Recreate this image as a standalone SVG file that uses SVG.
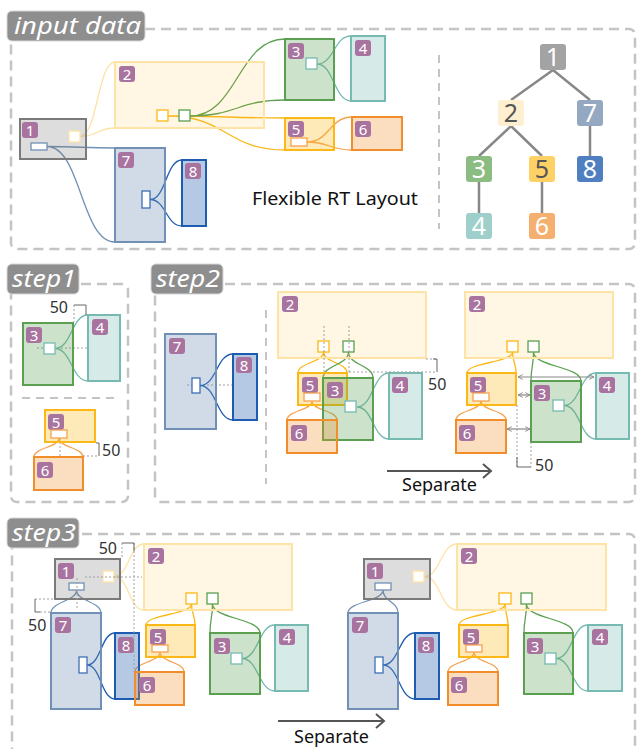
<svg xmlns="http://www.w3.org/2000/svg" width="637" height="749" viewBox="0 0 637 749">
<defs>
<style>
.frame{fill:none;stroke:#c4c4c4;stroke-width:2.5;stroke-dasharray:10 6}
.vdash{fill:none;stroke:#c4c4c4;stroke-width:2;stroke-dasharray:8 6}
.lbox{fill:#8e8e8e;stroke:#d6d6d6;stroke-width:1}
.ltxt{font-family:"Noto Sans","Liberation Sans",sans-serif;font-style:italic;fill:#fff;font-size:24px}
.n1{fill:#7a7a7a;fill-opacity:.26;stroke:#7a7a7a;stroke-width:2}
.n2{fill:#fbb817;fill-opacity:.12;stroke:#fde3a6;stroke-width:2}
.n3{fill:#5aa050;fill-opacity:.3;stroke:#5aa050;stroke-width:2}
.n4{fill:#76bab2;fill-opacity:.3;stroke:#76bab2;stroke-width:2}
.n5{fill:#fbb817;fill-opacity:.3;stroke:#fbb817;stroke-width:2}
.n6{fill:#f28d2c;fill-opacity:.3;stroke:#f28d2c;stroke-width:2}
.n7{fill:#7190b5;fill-opacity:.32;stroke:#7190b5;stroke-width:2}
.n8{fill:#1d5cb1;fill-opacity:.33;stroke:#1d5cb1;stroke-width:2}
.badge{fill:#a8739f}
.bt{font-family:"Noto Sans","Liberation Sans",sans-serif;font-size:15px;fill:#fff;text-anchor:middle}
.p{fill:#fff;stroke-width:1.3}
.pl{stroke:#fde3a6}.py{stroke:#fbb817}.pg{stroke:#5aa050}.pt{stroke:#76bab2}.po{stroke:#f6a14f}.pb{stroke:#7190b5}.pd{stroke:#3d6fb5}
.c{fill:none;stroke-width:1.3}
.c12{stroke:#fde3a6}.c25{stroke:#fbb817}.c23{stroke:#5aa050}.c34{stroke:#76bab2}.c56{stroke:#f6a14f}.c17{stroke:#7190b5}.c78{stroke:#1d5cb1}
.dot{fill:none;stroke:#a0a0a0;stroke-width:1;stroke-dasharray:2 2}
.br{fill:none;stroke:#666;stroke-width:1}
.dim{font-family:"Noto Sans","Liberation Sans",sans-serif;font-size:16px;fill:#333}
.cap{font-family:"Noto Sans","Liberation Sans",sans-serif;font-size:18px;fill:#111}
.te{stroke:#888;stroke-width:2.5;fill:none}
.tn{font-family:"Noto Sans","Liberation Sans",sans-serif;font-size:25px;text-anchor:middle}
.dh{fill:none;stroke:#888;stroke-width:1.2}
.sep{fill:none;stroke:#555;stroke-width:2}
</style>
<marker id="ah" viewBox="0 0 10 10" refX="9" refY="5" markerWidth="6" markerHeight="6" markerUnits="userSpaceOnUse" orient="auto-start-reverse">
<path d="M1,1 L9,5 L1,9" fill="none" stroke="#888" stroke-width="1.5"/>
</marker>
</defs>

<g id="frames">
<rect class="frame" x="11" y="29" width="624" height="220" rx="6"/>
<path class="vdash" d="M439,55 V229"/>
<rect class="frame" x="11" y="284" width="117" height="218" rx="6"/>
<path class="vdash" d="M22,398 H118"/>
<rect class="frame" x="155" y="284" width="480" height="218" rx="6"/>
<path class="vdash" d="M266,310 V484"/>
<rect class="frame" x="12" y="534" width="623" height="240" rx="6"/>
</g>
<g id="labels">
<rect class="lbox" x="7" y="11" width="138" height="30" rx="5"/>
<text class="ltxt" x="14" y="34" textLength="127" lengthAdjust="spacingAndGlyphs">input data</text>
<rect class="lbox" x="7" y="264" width="72" height="30" rx="5"/>
<text class="ltxt" x="12" y="287" textLength="64" lengthAdjust="spacingAndGlyphs">step1</text>
<rect class="lbox" x="151" y="264" width="72" height="30" rx="5"/>
<text class="ltxt" x="156" y="287" textLength="64" lengthAdjust="spacingAndGlyphs">step2</text>
<rect class="lbox" x="7" y="518" width="72" height="30" rx="5"/>
<text class="ltxt" x="12" y="541" textLength="64" lengthAdjust="spacingAndGlyphs">step3</text>
</g>

<g id="connectors-input">
<path class="c c12" d="M80,136.5 C97.5,136.5 97.5,62 115,62 M80,136.5 C97.5,136.5 97.5,128 115,128"/>
<path class="c c17" d="M47,146.5 C81,146.5 81,148 115,148 M47,146.5 C81,146.5 81,242 115,242"/>
<path class="c c25" d="M168,116 C226.5,116 226.5,118 285,118 M168,116 C226.5,116 226.5,150 285,150"/>
<path class="c c23" d="M190,116 C237.5,116 237.5,39 285,39 M190,116 C237.5,116 237.5,100 285,100"/>
<path class="c c34" d="M317,64 C334,64 334,36 351,36 M317,64 C334,64 334,101 351,101"/>
<path class="c c56" d="M307,142 C329.5,142 329.5,117 352,117 M307,142 C329.5,142 329.5,150 352,150"/>
<path class="c c78" d="M150,199.5 C166,199.5 166,160 182,160 M150,199.5 C166,199.5 166,226 182,226"/>
</g>
<g id="in-n1"><rect class="n1" x="20" y="119" width="66" height="40"/><rect class="badge" x="22" y="122" width="16" height="16" rx="3"/><text class="bt" x="30" y="135.5">1</text><rect class="p pl" x="69" y="131" width="11" height="11"/><rect class="p pb" x="31" y="143" width="16" height="7"/></g>
<g id="in-n2"><rect class="n2" x="115" y="62" width="149" height="66"/><rect class="badge" x="119" y="66" width="16" height="16" rx="3"/><text class="bt" x="127" y="79.5">2</text><rect class="p py" x="157" y="110" width="11" height="11"/><rect class="p pg" x="179" y="110" width="11" height="11"/></g>
<g id="in-n3"><rect class="n3" x="285" y="39" width="49" height="61"/><rect class="badge" x="288" y="43" width="16" height="16" rx="3"/><text class="bt" x="296" y="56.5">3</text><rect class="p pt" x="306" y="58" width="11" height="11"/></g>
<g id="in-n4"><rect class="n4" x="351" y="36" width="34" height="65"/><rect class="badge" x="355" y="40" width="16" height="16" rx="3"/><text class="bt" x="363" y="53.5">4</text></g>
<g id="in-n5"><rect class="n5" x="285" y="118" width="49" height="32"/><rect class="badge" x="288" y="121" width="16" height="16" rx="3"/><text class="bt" x="296" y="134.5">5</text><rect class="p po" x="291" y="138" width="16" height="8"/></g>
<g id="in-n6"><rect class="n6" x="352" y="117" width="50" height="33"/><rect class="badge" x="355" y="121" width="16" height="16" rx="3"/><text class="bt" x="363" y="134.5">6</text></g>
<g id="in-n7"><rect class="n7" x="115" y="148" width="50" height="94"/><rect class="badge" x="118" y="152" width="16" height="16" rx="3"/><text class="bt" x="126" y="165.5">7</text><rect class="p pd" x="142" y="191" width="8" height="17"/></g>
<g id="in-n8"><rect class="n8" x="182" y="160" width="24" height="66"/><rect class="badge" x="185" y="163" width="16" height="16" rx="3"/><text class="bt" x="193" y="176.5">8</text></g>
<text class="cap" x="252" y="205" textLength="166" lengthAdjust="spacingAndGlyphs">Flexible RT Layout</text>

<g id="tree-edges">
<path class="te" d="M553,70 L511,100 M553,70 L590,100 M511,126 L479,156 M511,126 L542,156 M590,126 V156 M479,182 V213 M542,182 V213"/>
</g>
<g id="t1"><rect x="540" y="44" width="26" height="26" rx="3" fill="#a3a3a3"/><text class="tn" x="553" y="66" fill="#fff">1</text></g>
<g id="t2"><rect x="498" y="100" width="26" height="26" rx="3" fill="#fdefcf"/><text class="tn" x="511" y="122" fill="#555">2</text></g>
<g id="t7"><rect x="577" y="100" width="26" height="26" rx="3" fill="#95a8c2"/><text class="tn" x="590" y="122" fill="#fff">7</text></g>
<g id="t3"><rect x="466" y="156" width="26" height="26" rx="3" fill="#8bbd82"/><text class="tn" x="479" y="178" fill="#fff">3</text></g>
<g id="t5"><rect x="529" y="156" width="26" height="26" rx="3" fill="#fdd166"/><text class="tn" x="542" y="178" fill="#555">5</text></g>
<g id="t8"><rect x="577" y="156" width="26" height="26" rx="3" fill="#4f7fc0"/><text class="tn" x="590" y="178" fill="#fff">8</text></g>
<g id="t4"><rect x="466" y="213" width="26" height="26" rx="3" fill="#9ecfcb"/><text class="tn" x="479" y="235" fill="#fff">4</text></g>
<g id="t6"><rect x="529" y="213" width="26" height="26" rx="3" fill="#f5b070"/><text class="tn" x="542" y="235" fill="#fff">6</text></g>

<g id="connectors-step1">
<path class="dot" d="M37,348 H88"/>
<path class="c c34" d="M55,348.5 C71.5,348.5 71.5,315 88,315 M55,348.5 C71.5,348.5 71.5,381 88,381"/>
<path class="c c56" d="M59,438 C59,447.5 34,447.5 34,457 M59,438 C59,447.5 83,447.5 83,457"/>
<path class="dot" d="M74,305 V322 M60,430 V456 M83,456 H99"/>
<path class="br" d="M74,305 H86 V315 M96,443 H99 V456"/>
</g>
<g id="s1-n3"><rect class="n3" x="23" y="323" width="50" height="62"/><rect class="badge" x="26" y="327" width="16" height="16" rx="3"/><text class="bt" x="34" y="340.5">3</text><rect class="p pt" x="44" y="343" width="11" height="11"/></g>
<g id="s1-n4"><rect class="n4" x="88" y="315" width="32" height="66"/><rect class="badge" x="92" y="319" width="16" height="16" rx="3"/><text class="bt" x="100" y="332.5">4</text></g>
<g id="s1-n5"><rect class="n5" x="45" y="410" width="50" height="32"/><rect class="badge" x="48" y="414" width="16" height="16" rx="3"/><text class="bt" x="56" y="427.5">5</text><rect class="p po" x="51" y="430" width="16" height="8"/></g>
<g id="s1-n6"><rect class="n6" x="34" y="457" width="49" height="33"/><rect class="badge" x="37" y="462" width="16" height="16" rx="3"/><text class="bt" x="45" y="475.5">6</text></g>
<text class="dim" x="68" y="313" text-anchor="end">50</text>
<text class="dim" x="102" y="456">50</text>

<g id="connectors-step2">
<path class="dot" d="M187,385 H233"/>
<path class="c c78" d="M200,385.5 C216.5,385.5 216.5,354 233,354 M200,385.5 C216.5,385.5 216.5,420 233,420"/>
<path class="c c25" d="M323.5,352 C323.5,362.5 298,362.5 298,373 M323.5,352 C323.5,362.5 347,362.5 347,373"/>
<path class="c c23" d="M348.5,352 C348.5,365 323,365 323,378 M348.5,352 C348.5,365 373,365 373,378"/>
<path class="c c56" d="M312,401 C312,410.5 287,410.5 287,420 M312,401 C312,410.5 337,410.5 337,420"/>
<path class="c c34" d="M357,407 C373,407 373,373 389,373 M357,407 C373,407 373,439 389,439"/>
<path class="c c25" d="M512.5,352 C512.5,362.5 467,362.5 467,373 M512.5,352 C512.5,362.5 516,362.5 516,373"/>
<path class="c c23" d="M533.5,352 C533.5,366.5 531,366.5 531,381 M533.5,352 C533.5,366.5 581,366.5 581,381"/>
<path class="c c56" d="M481,401 C481,410.5 456,410.5 456,420 M481,401 C481,410.5 506,410.5 506,420"/>
<path class="c c34" d="M564,405.5 C580,405.5 580,373 596,373 M564,405.5 C580,405.5 580,439 596,439"/>
</g>
<g id="s2-n7"><rect class="n7" x="165" y="334" width="51" height="95"/><rect class="badge" x="169" y="338" width="16" height="16" rx="3"/><text class="bt" x="177" y="351.5">7</text><rect class="p pd" x="192" y="378" width="8" height="15"/></g>
<g id="s2-n8"><rect class="n8" x="233" y="354" width="24" height="66"/><rect class="badge" x="236" y="357" width="16" height="16" rx="3"/><text class="bt" x="244" y="370.5">8</text></g>

<g id="s2a-n2"><rect class="n2" x="278" y="292" width="148" height="66"/><rect class="badge" x="282" y="296" width="16" height="16" rx="3"/><text class="bt" x="290" y="309.5">2</text><rect class="p py" x="318" y="341" width="11" height="11"/><rect class="p pg" x="343" y="341" width="11" height="11"/></g>
<g id="s2a-n5"><rect class="n5" x="298" y="373" width="49" height="32"/><rect class="badge" x="302" y="377" width="16" height="16" rx="3"/><text class="bt" x="310" y="390.5">5</text><rect class="p po" x="304" y="393" width="16" height="8"/></g>
<g id="s2a-n3"><rect class="n3" x="323" y="378" width="50" height="62"/><rect class="badge" x="327" y="382" width="16" height="16" rx="3"/><text class="bt" x="335" y="395.5">3</text><rect class="p pt" x="345" y="401" width="11" height="11"/></g>
<g id="s2a-n6"><rect class="n6" x="287" y="420" width="50" height="33"/><rect class="badge" x="291" y="425" width="16" height="16" rx="3"/><text class="bt" x="299" y="438.5">6</text></g>
<g id="s2a-n4"><rect class="n4" x="389" y="373" width="33" height="66"/><rect class="badge" x="392" y="377" width="16" height="16" rx="3"/><text class="bt" x="400" y="390.5">4</text></g>
<path class="dot" d="M324,326 V378 M349,326 V372 M349,372 H437 M426,359 H437"/>
<path class="br" d="M433,359 H437 V372"/>
<text class="dim" x="428" y="390">50</text>

<g id="s2b-n2"><rect class="n2" x="465" y="292" width="148" height="66"/><rect class="badge" x="469" y="296" width="16" height="16" rx="3"/><text class="bt" x="477" y="309.5">2</text><rect class="p py" x="507" y="341" width="11" height="11"/><rect class="p pg" x="528" y="341" width="11" height="11"/></g>
<g id="s2b-n5"><rect class="n5" x="467" y="373" width="49" height="32"/><rect class="badge" x="470" y="377" width="16" height="16" rx="3"/><text class="bt" x="478" y="390.5">5</text><rect class="p po" x="473" y="393" width="16" height="8"/></g>
<g id="s2b-n6"><rect class="n6" x="456" y="420" width="50" height="33"/><rect class="badge" x="459" y="425" width="16" height="16" rx="3"/><text class="bt" x="467" y="438.5">6</text></g>
<g id="s2b-n3"><rect class="n3" x="531" y="381" width="50" height="61"/><rect class="badge" x="534" y="385" width="16" height="16" rx="3"/><text class="bt" x="542" y="398.5">3</text><rect class="p pt" x="553" y="400" width="11" height="11"/></g>
<g id="s2b-n4"><rect class="n4" x="596" y="373" width="33" height="66"/><rect class="badge" x="599" y="377" width="16" height="16" rx="3"/><text class="bt" x="607" y="390.5">4</text></g>
<g id="s2b-arrows">
<path class="dh" d="M518,377 H594" marker-start="url(#ah)" marker-end="url(#ah)"/>
<path class="dh" d="M518,395 H530" marker-start="url(#ah)" marker-end="url(#ah)"/>
<path class="dh" d="M507,429 H530" marker-start="url(#ah)" marker-end="url(#ah)"/>
<path class="dot" d="M517,405 V467 M531,442 V467"/>
<path class="br" d="M517,457 V467 H531"/>
</g>
<text class="dim" x="535" y="471">50</text>
<g id="sep2"><path class="sep" d="M387,471 H491 M483,464 L491,471 L483,478"/></g>
<text class="cap" x="402" y="491" font-size="19">Separate</text>

<g id="connectors-step3">
<path class="c c12" d="M114,576.5 C129,576.5 129,544 144,544 M114,576.5 C129,576.5 129,610 144,610"/>
<path class="c c17" d="M76.5,590 C76.5,601.5 51,601.5 51,613 M76.5,590 C76.5,601.5 101,601.5 101,613"/>
<path class="c c25" d="M191.5,604 C191.5,614.5 146,614.5 146,625 M191.5,604 C191.5,614.5 195,614.5 195,625"/>
<path class="c c23" d="M212.5,604 C212.5,618.5 210,618.5 210,633 M212.5,604 C212.5,618.5 260,618.5 260,633"/>
<path class="c c78" d="M87,665 C101,665 101,633 115,633 M87,665 C101,665 101,699 115,699"/>
<path class="c c56" d="M160,652 C160,662 135,662 135,672 M160,652 C160,662 184,662 184,672"/>
<path class="c c34" d="M242,658.5 C258.5,658.5 258.5,625 275,625 M242,658.5 C258.5,658.5 258.5,691 275,691"/>
<path class="c c12" d="M424,576.5 C440.5,576.5 440.5,544 457,544 M424,576.5 C440.5,576.5 440.5,610 457,610"/>
<path class="c c17" d="M383,590 C383,601.5 348,601.5 348,613 M383,590 C383,601.5 398,601.5 398,613"/>
<path class="c c25" d="M505,604 C505,614.5 459,614.5 459,625 M505,604 C505,614.5 508,614.5 508,625"/>
<path class="c c23" d="M526.5,604 C526.5,618.5 524,618.5 524,633 M526.5,604 C526.5,618.5 573,618.5 573,633"/>
<path class="c c78" d="M383,665 C399,665 399,633 415,633 M383,665 C399,665 399,699 415,699"/>
<path class="c c56" d="M474,652 C474,662 448,662 448,672 M474,652 C474,662 498,662 498,672"/>
<path class="c c34" d="M556,658.5 C572,658.5 572,625 588,625 M556,658.5 C572,658.5 572,691 588,691"/>
</g>
<g id="s3a-n1"><rect class="n1" x="55" y="559" width="65" height="40"/><rect class="badge" x="58" y="563" width="16" height="16" rx="3"/><text class="bt" x="66" y="576.5">1</text><rect class="p pl" x="103" y="571" width="11" height="11"/><rect class="p pb" x="69" y="583" width="15" height="7"/></g>
<g id="s3a-n2"><rect class="n2" x="144" y="544" width="148" height="66"/><rect class="badge" x="148" y="548" width="16" height="16" rx="3"/><text class="bt" x="156" y="561.5">2</text><rect class="p py" x="186" y="593" width="11" height="11"/><rect class="p pg" x="207" y="593" width="11" height="11"/></g>
<g id="s3a-n7"><rect class="n7" x="51" y="613" width="50" height="96"/><rect class="badge" x="55" y="617" width="16" height="16" rx="3"/><text class="bt" x="63" y="630.5">7</text><rect class="p pd" x="79" y="657" width="8" height="16"/></g>
<g id="s3a-n8"><rect class="n8" x="115" y="633" width="24" height="66"/><rect class="badge" x="118" y="637" width="16" height="16" rx="3"/><text class="bt" x="126" y="650.5">8</text></g>
<g id="s3a-n5"><rect class="n5" x="146" y="625" width="49" height="32"/><rect class="badge" x="150" y="629" width="16" height="16" rx="3"/><text class="bt" x="158" y="642.5">5</text><rect class="p po" x="152" y="645" width="16" height="7"/></g>
<g id="s3a-n6"><rect class="n6" x="135" y="672" width="49" height="33"/><rect class="badge" x="139" y="677" width="16" height="16" rx="3"/><text class="bt" x="147" y="690.5">6</text></g>
<g id="s3a-n3"><rect class="n3" x="210" y="633" width="50" height="61"/><rect class="badge" x="214" y="638" width="16" height="16" rx="3"/><text class="bt" x="222" y="651.5">3</text><rect class="p pt" x="231" y="653" width="11" height="11"/></g>
<g id="s3a-n4"><rect class="n4" x="275" y="625" width="33" height="66"/><rect class="badge" x="279" y="629" width="16" height="16" rx="3"/><text class="bt" x="287" y="642.5">4</text></g>
<path class="dot" d="M85,577 H142 M77,578 V610 M122,543 V559 M134,543 V672 M35,599 H55 M40,612 H51"/>
<path class="br" d="M122,543 H134 V551 M35,599 V612 H40"/>
<text class="dim" x="117" y="554" text-anchor="end">50</text>
<text class="dim" x="28" y="631">50</text>

<g id="s3b-n1"><rect class="n1" x="364" y="559" width="66" height="40"/><rect class="badge" x="367" y="563" width="16" height="16" rx="3"/><text class="bt" x="375" y="576.5">1</text><rect class="p pl" x="413" y="571" width="11" height="11"/><rect class="p pb" x="375" y="583" width="16" height="7"/></g>
<g id="s3b-n2"><rect class="n2" x="457" y="544" width="149" height="66"/><rect class="badge" x="461" y="548" width="16" height="16" rx="3"/><text class="bt" x="469" y="561.5">2</text><rect class="p py" x="499" y="593" width="12" height="11"/><rect class="p pg" x="521" y="593" width="11" height="11"/></g>
<g id="s3b-n7"><rect class="n7" x="348" y="613" width="50" height="96"/><rect class="badge" x="352" y="617" width="16" height="16" rx="3"/><text class="bt" x="360" y="630.5">7</text><rect class="p pd" x="375" y="657" width="8" height="16"/></g>
<g id="s3b-n8"><rect class="n8" x="415" y="633" width="24" height="66"/><rect class="badge" x="418" y="637" width="16" height="16" rx="3"/><text class="bt" x="426" y="650.5">8</text></g>
<g id="s3b-n5"><rect class="n5" x="459" y="625" width="49" height="32"/><rect class="badge" x="463" y="629" width="16" height="16" rx="3"/><text class="bt" x="471" y="642.5">5</text><rect class="p po" x="466" y="645" width="16" height="7"/></g>
<g id="s3b-n6"><rect class="n6" x="448" y="672" width="50" height="33"/><rect class="badge" x="451" y="677" width="16" height="16" rx="3"/><text class="bt" x="459" y="690.5">6</text></g>
<g id="s3b-n3"><rect class="n3" x="524" y="633" width="49" height="61"/><rect class="badge" x="527" y="638" width="16" height="16" rx="3"/><text class="bt" x="535" y="651.5">3</text><rect class="p pt" x="545" y="653" width="11" height="11"/></g>
<g id="s3b-n4"><rect class="n4" x="588" y="625" width="34" height="66"/><rect class="badge" x="592" y="629" width="16" height="16" rx="3"/><text class="bt" x="600" y="642.5">4</text></g>
<g id="sep3"><path class="sep" d="M278,721 H384 M376,714 L384,721 L376,728"/></g>
<text class="cap" x="294" y="743" font-size="19">Separate</text>
</svg>
